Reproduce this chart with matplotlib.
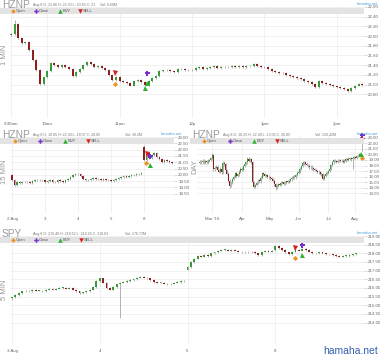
import numpy as np
import matplotlib.pyplot as plt
from matplotlib.patches import Rectangle

plt.rcParams['font.family'] = ['Liberation Sans', 'DejaVu Sans']

# ---- HZNP 1 MIN (one close every 3 minutes from 9:30) ----
m1_close = [22.05, 22.25, 21.95, 21.85, 21.88, 21.72, 21.5, 21.3, 21.02, 21.15,
            21.28, 21.44, 21.4, 21.36, 21.41, 21.37, 21.33, 21.18, 21.26, 21.32,
            21.4, 21.46, 21.42, 21.36, 21.38, 21.35, 21.3, 21.2, 21.1, 21.15,
            21.08, 21.05, 21.03, 20.98, 21.08, 21.1, 21.06, 21.0, 21.08, 21.13,
            21.18, 21.27, 21.29, 21.3, 21.27, 21.25, 21.33, 21.32, 21.3, 21.31,
            21.3, 21.34, 21.36, 21.33, 21.35, 21.37, 21.38, 21.35, 21.36, 21.37,
            21.36, 21.38, 21.37, 21.38, 21.37, 21.38, 21.39, 21.42, 21.39, 21.37,
            21.36, 21.32, 21.27, 21.25, 21.24, 21.23, 21.2, 21.17, 21.15, 21.14,
            21.12, 21.08, 21.05, 21.02, 20.95, 21.08, 21.04, 21.01, 20.99, 20.96,
            20.94, 20.92, 20.9, 20.87, 20.93, 20.98, 21.02, 21.0]
m1_open0 = 22.02
m1_highs = [(1, 22.33)]
m1_ticks = [0, 10, 30, 50, 70, 90]
m1_ticklabels = ['9:30am', '10am', '11am', '12p', '1pm', '2pm']
m1_trades = {'Open': [(28.7, 21.01)], 'Close': [(37.6, 21.24)],
             'BUY': [(37.0, 20.93), (37.6, 21.03)], 'SELL': [(28.7, 21.24)]}

# ---- HZNP 15 MIN (13 closes per day) ----
m15_close = [19.6, 19.2, 19.45, 19.35, 19.4, 19.45, 19.4, 19.38, 19.5, 19.55, 19.6, 19.58, 19.6,
             19.45, 19.5, 19.55, 19.4, 19.45, 19.6, 19.5, 19.45, 19.6, 19.7, 19.8, 19.95, 20.05,
             20.1, 19.9, 19.65, 19.55, 19.6, 19.7, 19.75, 19.7, 19.65, 19.6, 19.65, 19.6, 19.55,
             19.5, 19.6, 19.65, 19.75, 19.85, 19.9, 19.85, 19.9, 19.95, 20.0, 20.05, 20.05, 20.15,
             21.2, 21.7, 21.3, 21.55, 21.7, 21.4, 21.25, 21.05, 21.15, 21.1, 21.0, 20.95]
m15_open0 = 20.0
m15_gaps = [(52, 22.2)]
m15_highs = [(52, 22.38)]
m15_ticks = [0, 13, 26, 39, 52]
m15_ticklabels = ['2 Aug', '3', '4', '5', '8']
m15_trades = {'Open': [(52.8, 20.95)], 'Close': [(54.3, 21.5)],
              'BUY': [(54.3, 20.8)], 'SELL': [(53.1, 21.65)]}

# ---- HZNP DAY ----
day_close = [18.7, 18.6, 18.9, 18.5, 18.8, 18.6, 18.9, 19.0, 19.3, 19.9,
             17.3, 17.6, 17.8, 17.2, 16.9, 17.4, 16.8, 18.5, 18.2, 17.2,
             16.5, 15.3, 14.4, 15.0, 15.6, 16.0, 16.6, 16.2, 16.4, 16.9,
             17.4, 17.2, 17.9, 18.3, 18.6, 19.2, 18.9, 19.1, 18.6, 15.0,
             14.2, 14.5, 14.9, 15.4, 15.2, 15.8, 16.6, 16.4, 16.2, 16.3,
             16.0, 15.9, 15.7, 15.6, 15.3, 14.6, 14.1, 14.4, 14.7, 14.5,
             14.9, 15.0, 14.7, 14.9, 15.2, 15.1, 15.3, 15.5, 15.8, 16.0,
             15.9, 16.3, 16.7, 16.9, 17.4, 17.9, 18.4, 18.6, 18.3, 18.1,
             18.0, 17.7, 17.8, 17.5, 17.3, 17.2, 17.0, 16.9, 16.8, 16.5,
             16.4, 15.6, 16.2, 16.5, 16.7, 17.0, 17.4, 18.1, 18.6, 19.0,
             18.8, 18.7, 18.9, 19.0, 18.8, 18.9, 18.7, 18.9, 19.1, 19.0,
             19.2, 19.3, 19.1, 19.4, 19.5, 19.4, 19.7, 19.8, 20.0, 19.9,
             20.85]
day_open0 = 18.5
day_gaps = [(120, 22.2)]
day_highs = [(9, 20.3), (120, 22.38)]
day_lows = [(22, 13.9), (40, 13.9), (56, 13.6), (113, 17.4)]
day_ticks = [9, 31, 52, 73, 95, 115]
day_ticklabels = ["Mar '16", 'Apr', 'May', 'Jun', 'Jul', 'Aug']
day_trades = {'Open': [(120, 19.3)], 'Close': [(120, 23.5)],
              'BUY': [(119.6, 20.0)], 'SELL': [(120, 22.5)]}

# ---- SPY 5 MIN (26 closes per day) ----
spy_close = [215.45, 215.6, 215.7, 215.8, 215.85, 215.8, 215.9, 215.85, 215.85, 215.8, 215.9, 215.95, 215.9,
             215.95, 216.0, 216.0, 215.95, 216.0, 215.9, 215.8, 215.7, 215.75, 215.8, 215.9, 216.05, 216.4,
             216.55, 216.3, 216.0, 215.9, 216.05, 216.2, 216.3, 216.35, 216.4, 216.45, 216.5, 216.6, 216.65,
             216.6, 216.55, 216.45, 216.35, 216.3, 216.3, 216.25, 216.2, 216.25, 216.3, 216.35, 216.4, 216.4,
             217.2, 217.5, 217.7, 217.85, 217.8, 217.9, 217.85, 218.0, 218.05, 218.15, 218.2, 218.2, 218.15,
             218.2, 218.15, 218.1, 218.05, 218.1, 218.05, 218.1, 218.0, 217.9, 218.1, 218.15, 218.1, 218.15,
             218.45, 218.3, 218.2, 218.05, 217.95, 218.1, 218.2, 218.15, 218.25, 218.2, 218.1, 218.0, 218.0,
             218.05, 218.0, 217.95, 217.95, 217.9, 217.85, 217.8, 217.85, 217.85, 217.9, 217.95, 218.0]
spy_open0 = 215.4
spy_gaps = [(52, 217.05), (78, 218.2)]
spy_lows = [(0, 215.3), (32, 214.25)]
spy_ticks = [0, 26, 52, 78]
spy_ticklabels = ['3 Aug', '4', '5', '8']
spy_trades = {'Open': [(83.9, 217.73)], 'Close': [(86.0, 218.48)],
              'BUY': [(86.0, 217.9)], 'SELL': [(83.9, 218.3)]}

UP, DOWN, WICK = '#3a9a3a', '#8e1f1f', '#8a8a8a'
MARK = {'Open': ('D', '#f0901e', 2.6), 'Close': ('P', '#7a2ed0', 3.6),
        'BUY': ('^', '#2fb02f', 3.6), 'SELL': ('v', '#d62020', 3.6)}

W, H = 380, 358
fig = plt.figure(figsize=(3.8, 3.58), dpi=100)


def rect(l, t, r, b):
    return [l / W, 1 - b / H, (r - l) / W, (b - t) / H]


def panel(box, closes, open0, wick, width, ylim, yticks, fmt, xlim, xticks, xlabels,
          trades, gaps=(), highs=(), lows=()):
    ax = fig.add_axes(rect(*box), zorder=1)
    ax.patch.set_alpha(0)
    c = np.array(closes, dtype=float)
    o = np.r_[open0, c[:-1]]
    for i, v in gaps:
        o[i] = v
    hi = np.maximum(o, c) + wick
    lo = np.minimum(o, c) - wick
    for i, v in highs:
        hi[i] = v
    for i, v in lows:
        lo[i] = v
    x = np.arange(len(c))
    ax.vlines(x, lo, hi, color=WICK, lw=0.45, zorder=2)
    h = c - o
    h = np.where(np.abs(h) < 1e-9, (ylim[1] - ylim[0]) * 0.004, h)
    ax.bar(x, h, bottom=o, width=width, color=np.where(c >= o, UP, DOWN),
           linewidth=0, zorder=3)
    for k, pts in trades.items():
        m, col, s = MARK[k]
        px, py = zip(*pts)
        ax.plot(px, py, ls='none', marker=m, color=col, ms=s, mew=0,
                zorder=5, clip_on=False)
    ax.set_xlim(*xlim)
    ax.set_ylim(*ylim)
    ax.set_yticks(yticks)
    ax.set_yticklabels([fmt % v for v in yticks])
    ax.yaxis.tick_right()
    ax.tick_params(axis='y', labelsize=3.2, colors='#666666', length=2,
                   width=0.4, pad=1)
    ax.tick_params(axis='y', color='#bbbbbb')
    ax.set_xticks(xticks)
    ax.set_xticklabels(xlabels)
    ax.tick_params(axis='x', labelsize=3.2, colors='#666666', length=0, pad=3)
    ax.grid(True, color='#ebebeb', lw=0.5)
    ax.set_axisbelow(True)
    for s in ax.spines.values():
        s.set_visible(False)
    return ax


m1_ax = panel((10, 6, 364, 118), m1_close, m1_open0, 0.02, 0.55,
              (20.31, 22.62), np.arange(20.8, 22.61, 0.2), '%.2f',
              (-0.28, 97.5), m1_ticks, m1_ticklabels, m1_trades, highs=m1_highs)
m15_ax = panel((10, 136, 174, 213), m15_close, m15_open0, 0.08, 0.6,
               (16.97, 23.08), np.arange(18.5, 23.01, 0.5), '%.2f',
               (-0.79, 63.8), m15_ticks, m15_ticklabels, m15_trades,
               gaps=m15_gaps, highs=m15_highs)
day_ax = panel((197, 136, 364, 213), day_close, day_open0, 0.25, 0.7,
               (9.48, 23.3), np.arange(13, 23.01, 1.0), '%.2f',
               (-2.2, 121.5), day_ticks, day_ticklabels, day_trades,
               gaps=day_gaps, highs=day_highs, lows=day_lows)
spy_ax = panel((10, 235, 364, 345), spy_close, spy_open0, 0.04, 0.55,
               (212.7, 219.06), np.arange(214.0, 219.01, 0.5), '%.2f',
               (-0.6, 104.3), spy_ticks, spy_ticklabels, spy_trades,
               gaps=spy_gaps, lows=spy_lows)

# overlay in pixel coordinates for headers, legend bands and labels
ov = fig.add_axes([0, 0, 1, 1], zorder=2)
ov.set_xlim(0, W)
ov.set_ylim(H, 0)
ov.axis('off')


def header(x0, x1, y0, title, stats, vol, vol_x, leg_x, link_x):
    ov.text(x0 + 2, y0 + 0.3, title, fontsize=7.3, color='#9a9a9a', va='top')
    ov.text(x0 + 33, y0 + 3, stats, fontsize=2.6, color='#777777', va='top')
    ov.text(vol_x, y0 + 3, vol, fontsize=2.6, color='#777777', va='top')
    ov.text(link_x, y0 + 2, 'hamaha.net', fontsize=3, color='#4aa3df',
            va='top', ha='right')
    ov.add_patch(Rectangle((x0, y0 + 8), x1 - x0, 5.5, color='#e3e3e3', lw=0))
    for lx, k in zip(leg_x, ['Open', 'Close', 'BUY', 'SELL']):
        m, col, s = MARK[k]
        ov.plot(lx, y0 + 11, ls='none', marker=m, color=col, ms=s * 0.9, mew=0)
        ov.text(lx + 3, y0 + 11.2, k, fontsize=2.9, color='#555555', va='center')


header(0, 364, 0, 'HZNP', 'Aug 8 O: 21.86 H: 22.30 L: 20.85 C: 21', 'Vol: 9.68M',
       100, [13, 36, 60, 80], 378)
header(0, 174, 130, 'HZNP', 'Aug 8 O: 19.85 H: 22.38 L: 18.07 C: 20.85', 'Vol: 30.2M',
       125, [15, 40, 65, 88], 182)
header(190, 364, 130, 'HZNP', 'Aug 8 O: 18.23 H: 22.38 L: 13.05 C: 20.85', 'Vol: 120.42M',
       315, [204, 230, 254, 277], 378)
header(0, 364, 229, 'SPY', 'Aug 8 O: 215.46 H: 218.52 L: 214.25 C: 218.03', 'Vol: 176.72M',
       125, [13, 36, 60, 81], 378)

for lx, ly, txt in [(5, 55, '1 MIN'), (5, 172, '15 MIN'), (195, 167, 'DAY'), (5, 290, '5 MIN')]:
    ov.text(lx, ly, txt, fontsize=5.5, color='#9a9a9a', rotation=90,
            ha='center', va='center')

ov.text(378, 356, 'hamaha.net', fontsize=7.5, color='#3560b0', ha='right', va='bottom')

fig.savefig('out.png', dpi=100)
